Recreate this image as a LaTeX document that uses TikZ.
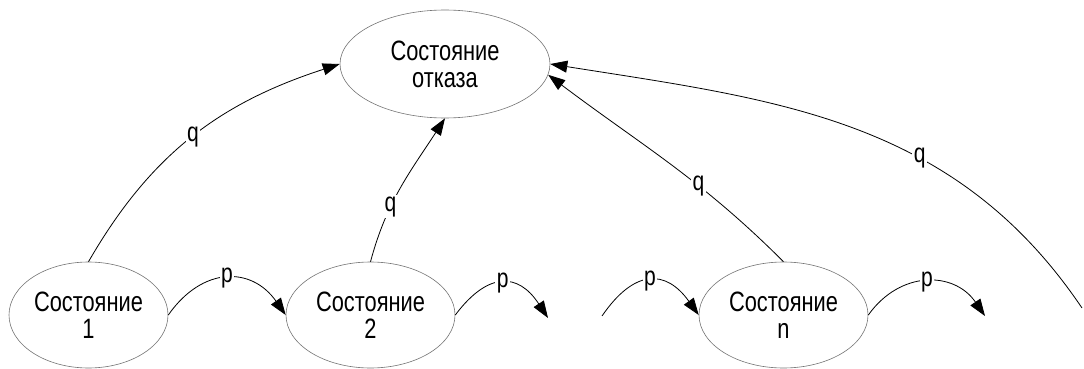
\documentclass[tikz,border=0pt]{standalone}
\usepackage{fontspec}
\setmainfont{Liberation Sans}[FakeStretch=0.78]
\usetikzlibrary{shapes.geometric,arrows.meta}
\begin{document}
\begin{tikzpicture}[x=1pt,y=1pt,
  state/.style={ellipse,draw=black!55,line width=0.6pt,inner sep=0pt,minimum height=106pt,align=center,font=\fontsize{28}{27}\selectfont},
  conn/.style={draw=black,line width=0.8pt,-{Triangle[length=17pt,width=12pt]}},
  lbl/.style={fill=white,inner sep=1.5pt,font=\fontsize{27}{27}\selectfont}]
\useasboundingbox (0,0) rectangle (1084,-369);
\node[state,minimum width=210pt,minimum height=108pt] (f) at (445,-64) {Состояние\\отказа};
\node[state,minimum width=159pt] (s1) at (88.5,-315) {Состояние\\1};
\node[state,minimum width=169pt] (s2) at (370.5,-315) {Состояние\\2};
\node[state,minimum width=169pt] (sn) at (783.5,-315) {Состояние\\n};
\coordinate (a2) at (548,-318);
\coordinate (bn) at (602,-316);
\coordinate (an) at (985,-316);
\coordinate (r) at (1082,-308);
% p transitions
\draw[conn] (s1.east) to[bend left=55,looseness=1.3] node[lbl]{p} (s2.west);
\draw[conn] (s2.east) to[bend left=55,looseness=1.5] node[lbl]{p} (a2);
\draw[conn] (bn) to[bend left=55,looseness=1.5] node[lbl]{p} (sn.west);
\draw[conn] (sn.east) to[bend left=55,looseness=1.2] node[lbl]{p} (an);
% q transitions
\draw[conn] (s1.north) to[out=60,in=198] node[lbl]{q} (f.west);
\draw[conn] (s2.north) to[out=75,in=237] node[lbl,pos=0.35]{q} (f.south);
\draw[conn] (sn.north) to[out=135,in=-37] node[lbl,pos=0.37]{q} (f.-6);
\draw[conn] (r) to[out=124,in=-9] node[lbl,pos=0.37]{q} (f.east);
\end{tikzpicture}
\end{document}
